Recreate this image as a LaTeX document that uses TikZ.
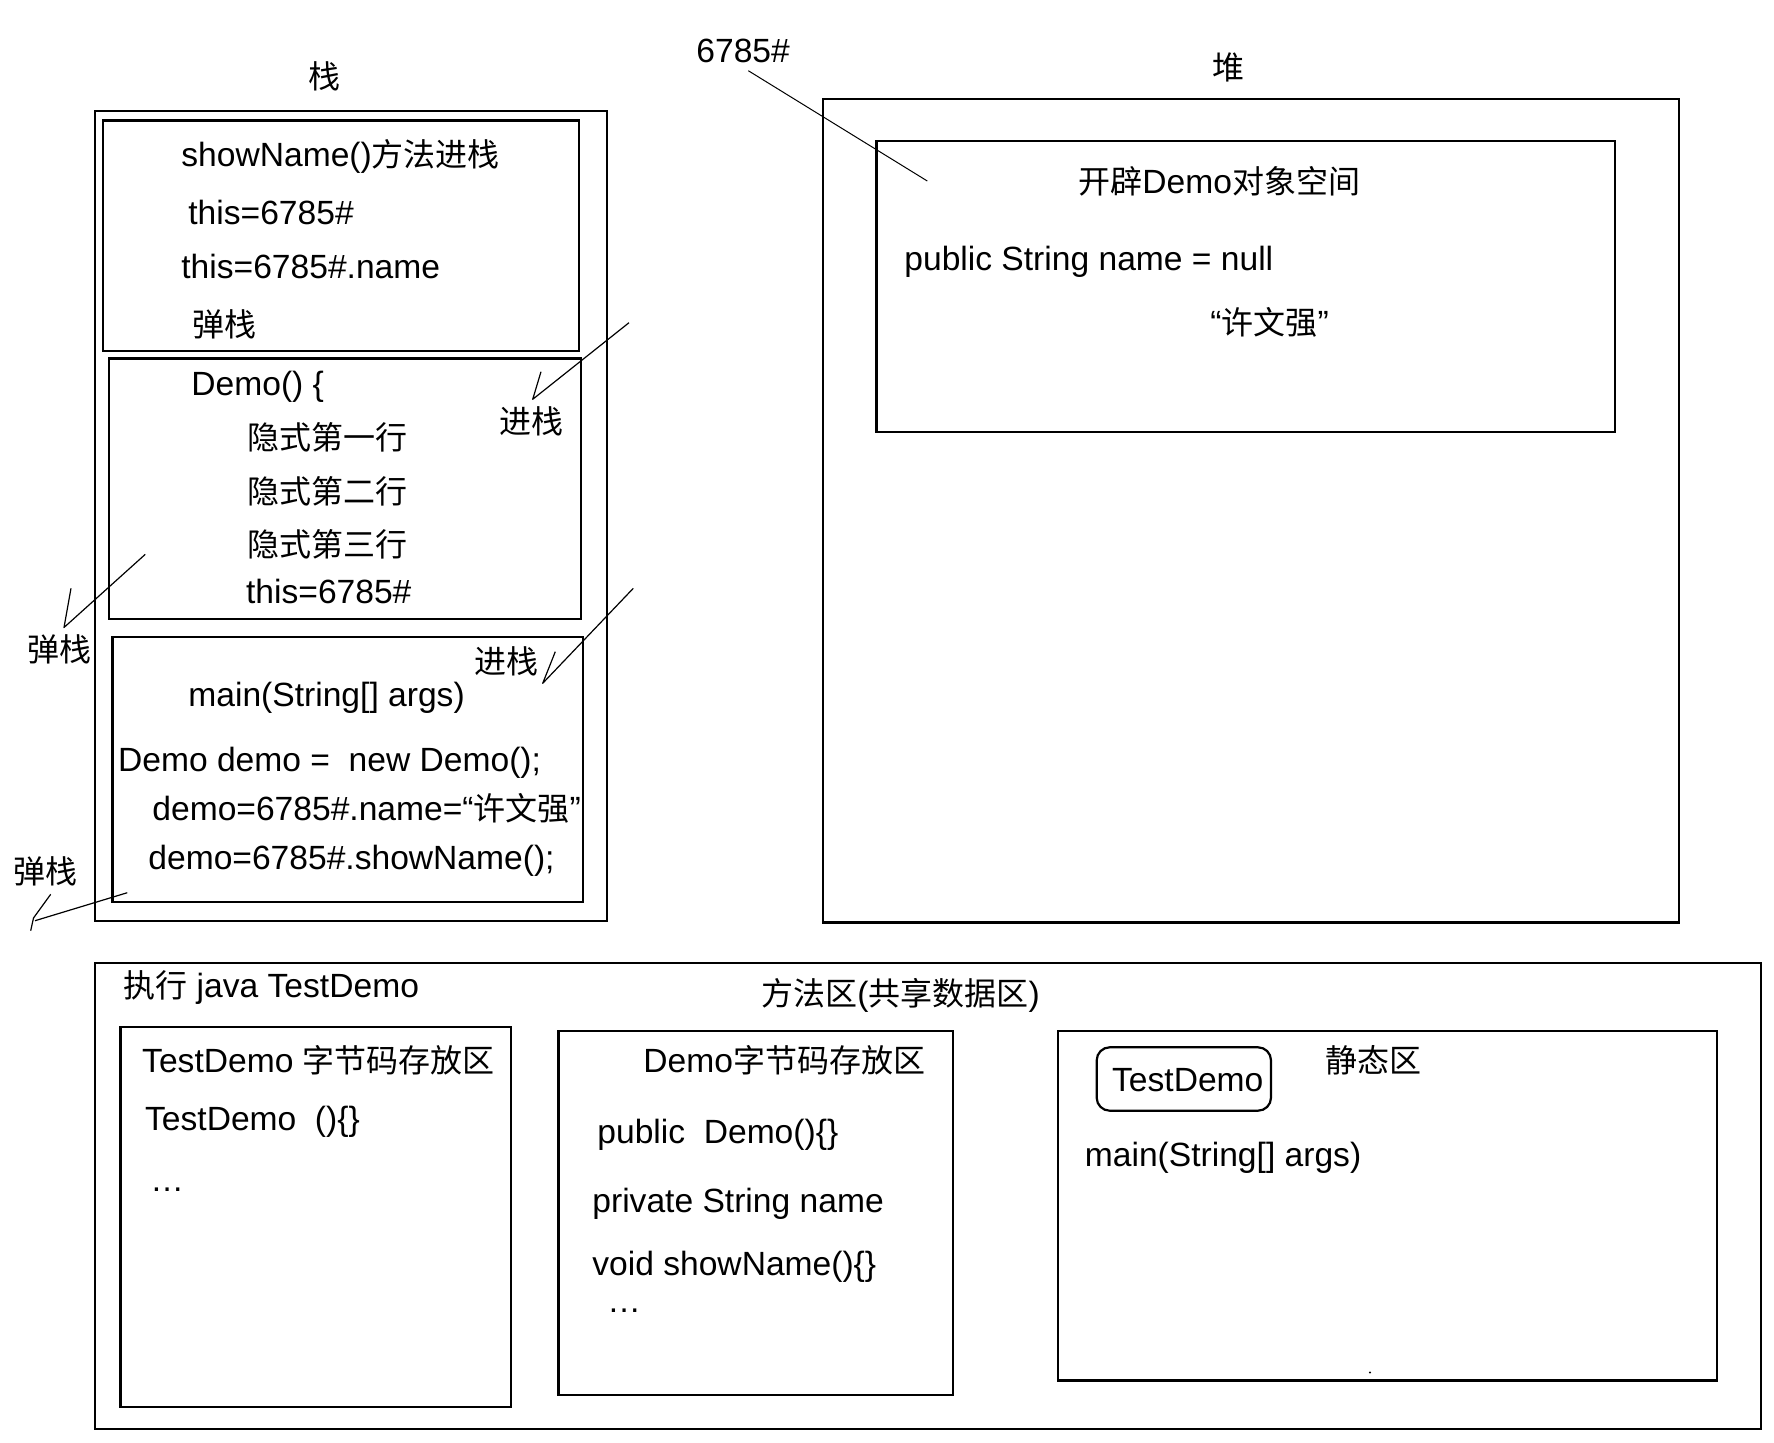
\documentclass[tikz,border=0pt]{standalone}
\usepackage{fontspec}
\setmainfont{Liberation Sans}[Scale=1.05]
\newfontfamily\cjk{Noto Sans CJK SC}
\newcommand{\zh}[1]{{\cjk #1}}
\usetikzlibrary{fit}
\begin{document}
\begin{tikzpicture}[x=0.5pt,y=-0.5pt,
  box/.style={draw, line width=1.1pt, inner sep=0pt},
  rbox/.style={draw, line width=1.1pt, inner sep=0pt, rounded corners=6.5pt},
  txt/.style={anchor=west, inner sep=0pt, font=\fontsize{16}{19}\selectfont, text height=15.2pt, text depth=3.2pt},
  ctxt/.style={txt, anchor=center},
  hand/.style={draw, line width=0.6pt, line join=round}]
\fill[white] (0,0) rectangle (1774,1442);
\useasboundingbox (0,0) rectangle (1774,1442);

% ---------- stack ----------
\node[ctxt] (stackTitle) at (324,76) {\zh{栈}};
\node[box, fit={(94.7,110.7) (606.8,920.6)}] (stack) {};
\node[box, fit={(102.8,120.5) (578.6,350.9)}] (frameShow) {};
\node[box, fit={(109,358.5) (581,618.8)}] (frameDemo) {};
\node[box, fit={(112.5,636.6) (582.7,902)}] (frameMain) {};

\node[txt] (s1) at (181,154) {showName()\zh{方法进栈}};
\node[txt] (s2) at (188,212) {this=6785\#};
\node[txt] (s3) at (181,266.5) {this=6785\#.name};
\node[txt] (s4) at (192,324.5) {\zh{弹栈}};

\node[txt] (d1) at (191,383) {Demo() \{};
\node[txt] (d2) at (247,437.5) {\zh{隐式第一行}};
\node[txt] (d3) at (247,491) {\zh{隐式第二行}};
\node[txt] (d4) at (247,544.6) {\zh{隐式第三行}};
\node[txt] (d5) at (245.7,591.5) {this=6785\#};

\node[txt] (m1) at (188,694) {main(String[] args)};
\node[txt] (m2) at (117.7,759.5) {Demo demo =\ \ new Demo();};
\node[txt] (m3) at (152,808.4) {demo=6785\#.name=“\zh{许文强}”};
\node[txt] (m4) at (148,857.8) {demo=6785\#.showName();};

\node[txt] (push1) at (499,421) {\zh{进栈}};
\node[txt] (push2) at (474,661.5) {\zh{进栈}};
\node[txt] (pop1) at (27,649.5) {\zh{弹栈}};
\node[txt] (pop2) at (13,871.5) {\zh{弹栈}};

% hand-drawn arrows
\coordinate (p1s) at (629,322.7);
\coordinate (p1e) at (532.7,399.3);
\coordinate (p1t) at (541,371.7);
\draw[hand] (p1s) -- (p1e) -- (p1t);

\coordinate (p2s) at (633.3,588.3);
\coordinate (p2e) at (542.7,683.3);
\coordinate (p2t) at (555.3,651.7);
\draw[hand] (p2s) -- (p2e) -- (p2t);

\coordinate (q1s) at (145.3,554.3);
\coordinate (q1e) at (64,627.5);
\coordinate (q1t) at (71,588.3);
\draw[hand] (q1s) -- (q1e) -- (q1t);

\coordinate (q2s) at (127.3,892.7);
\coordinate (q2e) at (35,920.7);
\coordinate (q2t) at (50.7,894.3);
\coordinate (q2m) at (33.5,918);
\coordinate (q2u) at (30.7,930.7);
\draw[hand] (q2s) -- (q2e);
\draw[hand] (q2t) -- (q2m) -- (q2u);

% ---------- heap ----------
\node[ctxt] (heapTitle) at (1228.5,67) {\zh{堆}};
\node[txt] (addr) at (696,50) {6785\#};
\node[box, fit={(822.7,99) (1679,922.5)}] (heap) {};
\node[box, fit={(876.5,141) (1615,432)}] (obj) {};
\node[txt] (h1) at (1078,181) {\zh{开辟}Demo\zh{对象空间}};
\node[txt] (h2) at (904,258) {public String name = null};
\node[txt] (h3) at (1210,322) {“\zh{许文强}”};
\coordinate (addrS) at (748.3,70.7);
\coordinate (addrE) at (927.3,181);
\draw[line width=0.5pt] (addrS) -- (addrE);

% ---------- method area ----------
\node[box, fit={(95,963) (1761,1429)}] (method) {};
\node[txt] (e1) at (123,985.6) {\zh{执行} java TestDemo};
\node[txt] (e2) at (761,993) {\zh{方法区}(\zh{共享数据区})};

\node[box, fit={(120.5,1027) (511,1406.7)}] (tdBox) {};
\node[txt] (t1) at (141.8,1060) {TestDemo \zh{字节码存放区}};
\node[txt] (t2) at (144.7,1118) {TestDemo\ \ ()\{\}};
\node[txt, anchor=base west] (t3) at (150,1191) {…};

\node[box, fit={(558.5,1031) (952.8,1395)}] (dmBox) {};
\node[txt] (u1) at (643,1060) {Demo\zh{字节码存放区}};
\node[txt] (u2) at (597,1131.7) {public\ \ Demo()\{\}};
\node[txt] (u3) at (592,1200) {private String name};
\node[txt] (u4) at (592,1263) {void showName()\{\}};
\node[txt, anchor=base west] (u5) at (607,1312) {…};

\node[box, fit={(1058,1030.7) (1716.8,1380.5)}] (stBox) {};
\node[rbox, fit={(1096.7,1047.3) (1271,1110.7)}] (tdRound) {};
\node[txt] (v1) at (1111.7,1079) {TestDemo};
\node[txt] (v2) at (1325,1060) {\zh{静态区}};
\node[txt] (v3) at (1084.5,1154) {main(String[] args)};
\fill (1370,1372.5) circle (0.6pt);
\end{tikzpicture}
\end{document}
